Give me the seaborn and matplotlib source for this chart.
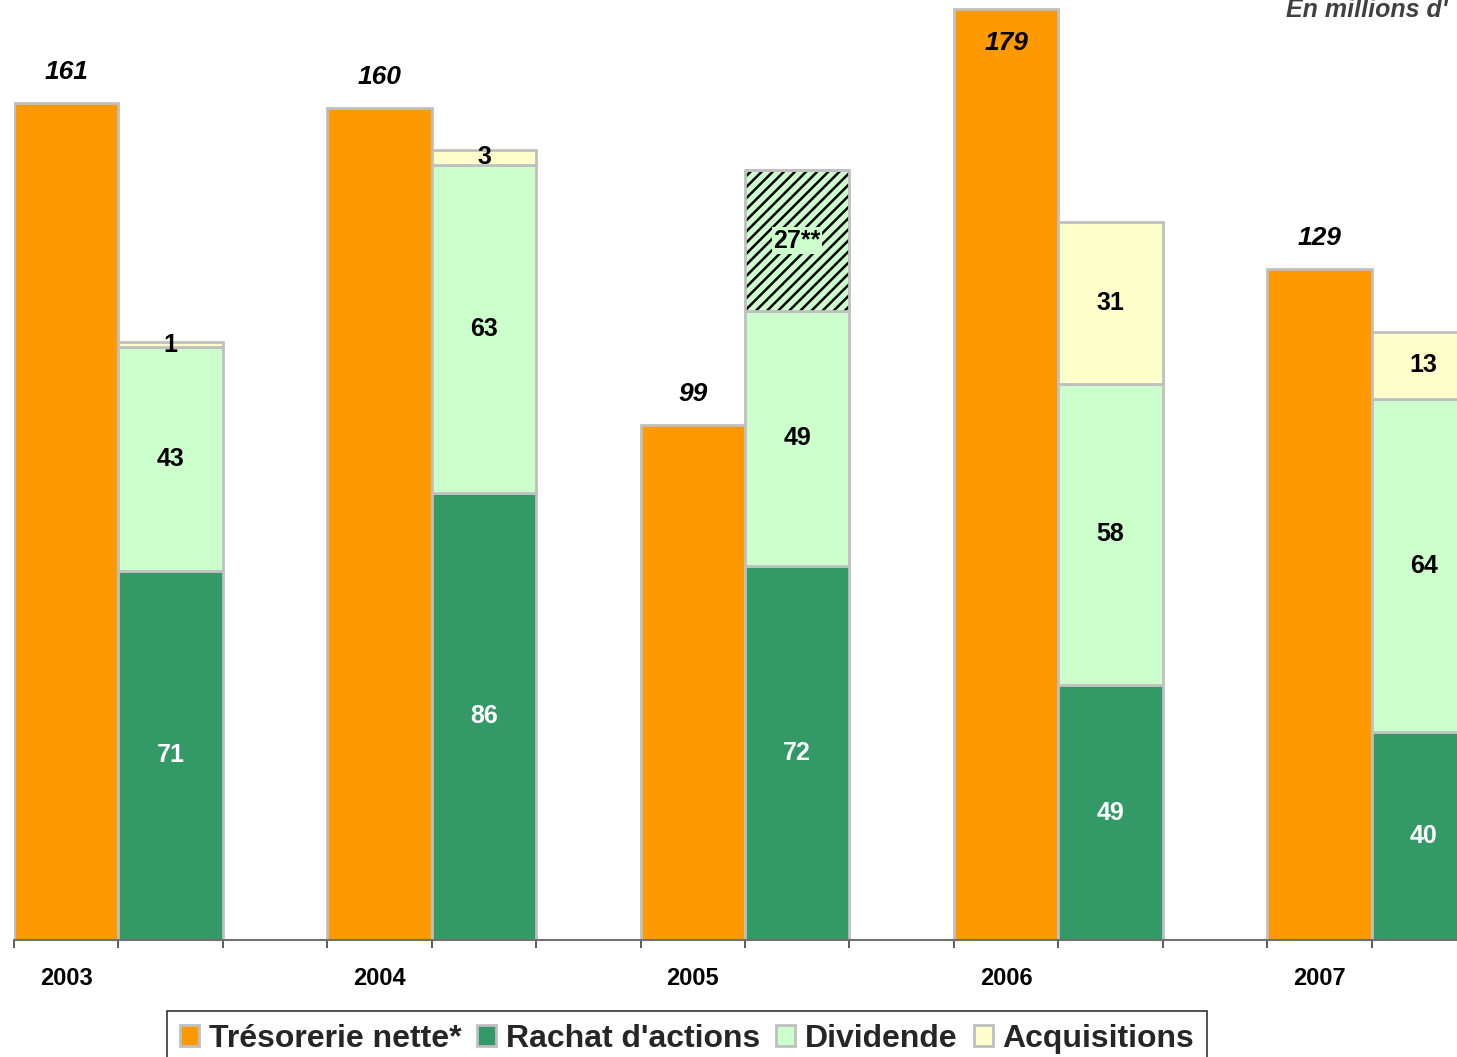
import numpy as np
import pandas as pd
import matplotlib
matplotlib.use("Agg")
import matplotlib.pyplot as plt
import seaborn as sns
from matplotlib.patches import Patch
from matplotlib.transforms import blended_transform_factory

years = ['2003', '2004', '2005', '2006', '2007']
tresorerie = [161, 160, 99, 179, 129]
rachat = [71, 86, 72, 49, 40]
dividende = [43, 63, 49, 58, 64]
acquisitions = [1, 3, 0, 31, 13]
autre = [0, 0, 27, 0, 0]
autre_labels = ['', '', '27**', '', '']

sns.set_theme(style="white")
plt.rcParams['font.family'] = ['Liberation Sans', 'DejaVu Sans']
plt.rcParams['hatch.linewidth'] = 1.8

c_orange = '#FF9900'
c_green = '#339966'
c_light = '#CCFFCC'
c_yellow = '#FFFFCC'
c_edge = '#C0C0C0'

fig = plt.figure(figsize=(14.57, 10.57), dpi=100)
ax = fig.add_axes([14 / 1457, 117 / 1057, 1462 / 1457, 936 / 1057])

w = 1 / 3
pos = np.arange(len(years))
df = pd.DataFrame({'pos': pos, 'tresorerie': tresorerie})

# orange bars with seaborn (numeric positions)
sns.barplot(data=df, x='pos', y='tresorerie', native_scale=True, width=w,
            color=c_orange, saturation=1, edgecolor=c_edge, linewidth=2,
            errorbar=None, ax=ax)

xs = pos + w
r = np.array(rachat)
d = np.array(dividende)
a = np.array(acquisitions)
o = np.array(autre)

ax.bar(xs, r, width=w, color=c_green, edgecolor=c_edge, linewidth=2)
ax.bar(xs, d, bottom=r, width=w, color=c_light, edgecolor=c_edge, linewidth=2)
ax.bar(xs, o, bottom=r + d, width=w, color=c_light, edgecolor='black',
       linewidth=0, hatch='///')
ax.bar(xs, o, bottom=r + d, width=w, fill=False, edgecolor=c_edge, linewidth=2)
ax.bar(xs, a, bottom=r + d + o, width=w, color=c_yellow, edgecolor=c_edge, linewidth=2)

ymax = 180
# totals (placed inside the bar when there is no room above)
for i, v in enumerate(tresorerie):
    ty = v + 6 if v + 10 < ymax else v - 6.5
    ax.text(pos[i], ty, str(v), ha='center', va='center', fontsize=19,
            fontweight='bold', fontstyle='italic', color='black')

lab = dict(ha='center', va='center', fontsize=18, fontweight='bold')
for i in range(len(years)):
    ax.text(xs[i], r[i] / 2, str(r[i]), color='white', **lab)
    ax.text(xs[i], r[i] + d[i] / 2, str(d[i]), color='black', **lab)
    if o[i]:
        ax.text(xs[i], r[i] + d[i] + o[i] / 2, autre_labels[i], color='black',
                bbox=dict(facecolor=c_light, edgecolor='none', pad=1), **lab)
    if a[i]:
        ax.text(xs[i], r[i] + d[i] + o[i] + a[i] / 2, str(a[i]), color='black', **lab)

ax.set_xlim(-w / 2, 4.5)
ax.set_ylim(0, ymax)

edges = np.concatenate([pos - w / 2, pos + w / 2, pos + 3 * w / 2])
ax.set_xticks(np.sort(edges))
ax.set_xticklabels([])
ax.set_yticks([])
ax.tick_params(axis='x', bottom=True, length=6, width=1.2, color='#404040')
ax.set_xlabel('')
ax.set_ylabel('')
for s in ['top', 'right', 'left']:
    ax.spines[s].set_visible(False)
ax.spines['bottom'].set_color('#707070')
ax.spines['bottom'].set_linewidth(1.5)

trans = blended_transform_factory(ax.transData, ax.transAxes)
for i, y in enumerate(years):
    ax.text(pos[i], -0.041, y, transform=trans, ha='center', va='center',
            fontsize=17, fontweight='bold', color='black')

fig.text(1286 / 1457, 1 - 10 / 1057, "En millions d'", ha='left',
         va='center', fontsize=18, fontweight='bold', fontstyle='italic',
         color='#404040')

handles = [Patch(facecolor=c_orange, edgecolor=c_edge, linewidth=2),
           Patch(facecolor=c_green, edgecolor=c_edge, linewidth=2),
           Patch(facecolor=c_light, edgecolor=c_edge, linewidth=2),
           Patch(facecolor=c_yellow, edgecolor=c_edge, linewidth=2)]
labels = ['Trésorerie nette*', "Rachat d'actions", 'Dividende', 'Acquisitions']
leg = fig.legend(handles, labels, loc='upper center',
                 bbox_to_anchor=(687 / 1457, 1 - 1011 / 1057), ncol=4,
                 frameon=True, fancybox=False, edgecolor='black',
                 prop={'size': 23, 'weight': 'bold'}, handlelength=0.6,
                 handleheight=0.6, handletextpad=0.3, columnspacing=0.5,
                 borderpad=0.4, borderaxespad=0)
leg.get_frame().set_linewidth(1.2)

fig.savefig('out.png', dpi=100)
